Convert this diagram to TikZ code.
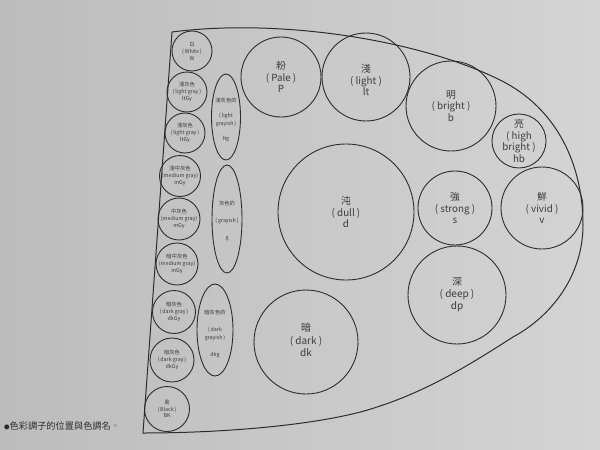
\documentclass[tikz,border=0pt]{standalone}
\usepackage{fontspec}
\setmainfont{Noto Sans CJK TC}
\usetikzlibrary{shapes.geometric}
\definecolor{linec}{RGB}{45,45,45}
\definecolor{txtc}{RGB}{60,60,60}
\definecolor{bgl}{RGB}{188,188,188}
\definecolor{bgr}{RGB}{212,212,212}
\newcommand{\mybigfont}{\fontsize{9.8}{11.5}\selectfont}
\newcommand{\mysmallfont}{\fontsize{5.3}{6.8}\selectfont}
\newcommand{\myellfont}{\fontsize{5.3}{7.6}\selectfont}
\newcommand{\bp}[1]{(\,#1\,)}
\newcommand{\Bp}[1]{( #1 )}
\tikzset{
  ring/.style={circle, draw=linec, line width=0.9pt, minimum size=#1, inner sep=0pt},
  oval/.style n args={2}{ellipse, draw=linec, line width=0.9pt, minimum width=#1, minimum height=#2, inner sep=0pt},
  bigtxt/.style={align=center, inner sep=0pt, text=txtc, font=\mybigfont},
  smalltxt/.style={align=center, inner sep=0pt, text=txtc, font=\mysmallfont},
  elltxt/.style={align=center, inner sep=0pt, text=txtc, font=\myellfont},
  outline/.style={draw=linec, line width=1pt, line join=miter}
}
\begin{document}
\begin{tikzpicture}[x=1pt,y=-1pt]
\useasboundingbox (0,0) rectangle (600,450);
\shade[left color=bgl, right color=bgr] (0,0) rectangle (600,450);
% outer D shape
\draw[outline] (172,32) .. controls (280,18) and (420,40) .. (500,80)
  .. controls (557,108) and (583,165) .. (583,225)
  .. controls (583,275) and (552,316) .. (513,337)
  .. controls (477,360) and (432,389) .. (380,406)
  .. controls (330,424) and (230,433) .. (143,433) -- cycle;
% left column
\node[ring=40pt] (W) at (192,51) {};
\node[smalltxt] (Wt) at (W.center) {白\\\bp{White}\\W};
\node[ring=40pt] (lg1) at (187,92) {};
\node[smalltxt] (lg1t) at (lg1.center) {淺灰色\\\bp{light gray}\\ltGy};
\node[ring=40pt] (lg2) at (185,133) {};
\node[smalltxt] (lg2t) at (lg2.center) {淺灰色\\\bp{light gray}\\ltGy};
\node[ring=41pt] (mg1) at (180,176) {};
\node[smalltxt] (mg1t) at (mg1.center) {淺中灰色\\(medium gray)\\mGy};
\node[ring=42pt] (mg2) at (179,219) {};
\node[smalltxt] (mg2t) at (mg2.center) {中灰色\\(medium gray)\\mGy};
\node[ring=42pt] (mg3) at (177,264) {};
\node[smalltxt] (mg3t) at (mg3.center) {暗中灰色\\(medium gray)\\mGy};
\node[ring=43pt] (dg1) at (174,312) {};
\node[smalltxt] (dg1t) at (dg1.center) {暗灰色\\\bp{dark gray}\\dkGy};
\node[ring=44pt] (dg2) at (172,360) {};
\node[smalltxt] (dg2t) at (dg2.center) {暗灰色\\\bp{dark gray}\\dkGy};
\node[ring=45pt] (BK) at (167,409) {};
\node[smalltxt] (BKt) at (BK.center) {黑\\\bp{Black}\\BK};
% ellipses
\node[oval={29pt}{86pt}] (ltg) at (226,117) {};
\node[elltxt] (ltgt) at (226,120) {淺灰色的\\[7.6pt](\,light\\grayish\,)\\[7.6pt]ltg};
\node[oval={30pt}{108pt}] (g) at (227,219) {};
\node[elltxt, font=\fontsize{5.3}{8.5}\selectfont] (gt) at (227,221) {灰色的\\[8.5pt]\bp{grayish}\\[8.5pt]g};
\node[oval={36pt}{92pt}] (dkg) at (215,330) {};
\node[elltxt, font=\fontsize{5.3}{8.3}\selectfont] (dkgt) at (215,334) {暗灰色的\\[8.3pt](\,dark\\grayish\,)\\[8.3pt]dkg};
% big circles
\node[ring=80pt] (P) at (281,77) {};
\node[bigtxt] (Pt) at (P.center) {粉\\\Bp{Pale}\\P};
\node[ring=88pt] (lt) at (366,77) {};
\node[bigtxt] (ltt) at (366,80) {淺\\\Bp{light}\\lt};
\node[ring=90pt] (b) at (451,106) {};
\node[bigtxt] (bt) at (b.center) {明\\\Bp{bright}\\b};
\node[ring=54pt] (hb) at (519,141) {};
\node[bigtxt] (hbt) at (hb.center) {亮\\( high\\bright )\\hb};
\node[ring=136pt] (d) at (346,212) {};
\node[bigtxt] (dt) at (d.center) {沌\\\Bp{dull}\\d};
\node[ring=74pt] (s) at (455,208) {};
\node[bigtxt] (st) at (s.center) {強\\\Bp{strong}\\s};
\node[ring=82pt] (v) at (542,208) {};
\node[bigtxt] (vt) at (v.center) {鮮\\\Bp{vivid}\\v};
\node[ring=98pt] (dp) at (457,295) {};
\node[bigtxt, font=\fontsize{10}{12}\selectfont] (dpt) at (dp.center) {深\\\Bp{deep}\\dp};
\node[ring=104pt] (dk) at (306,342) {};
\node[bigtxt, font=\fontsize{10}{12.3}\selectfont] (dkt) at (306,340) {暗\\\Bp{dark}\\dk};
% caption
\node[anchor=west, inner sep=0pt, text=linec, font=\fontsize{9.2}{11}\selectfont] (cap) at (4,426) {{\fontsize{5.5}{6}\selectfont ●}色彩調子的位置與色調名{\color{txtc!70}。}};
\end{tikzpicture}
\end{document}
